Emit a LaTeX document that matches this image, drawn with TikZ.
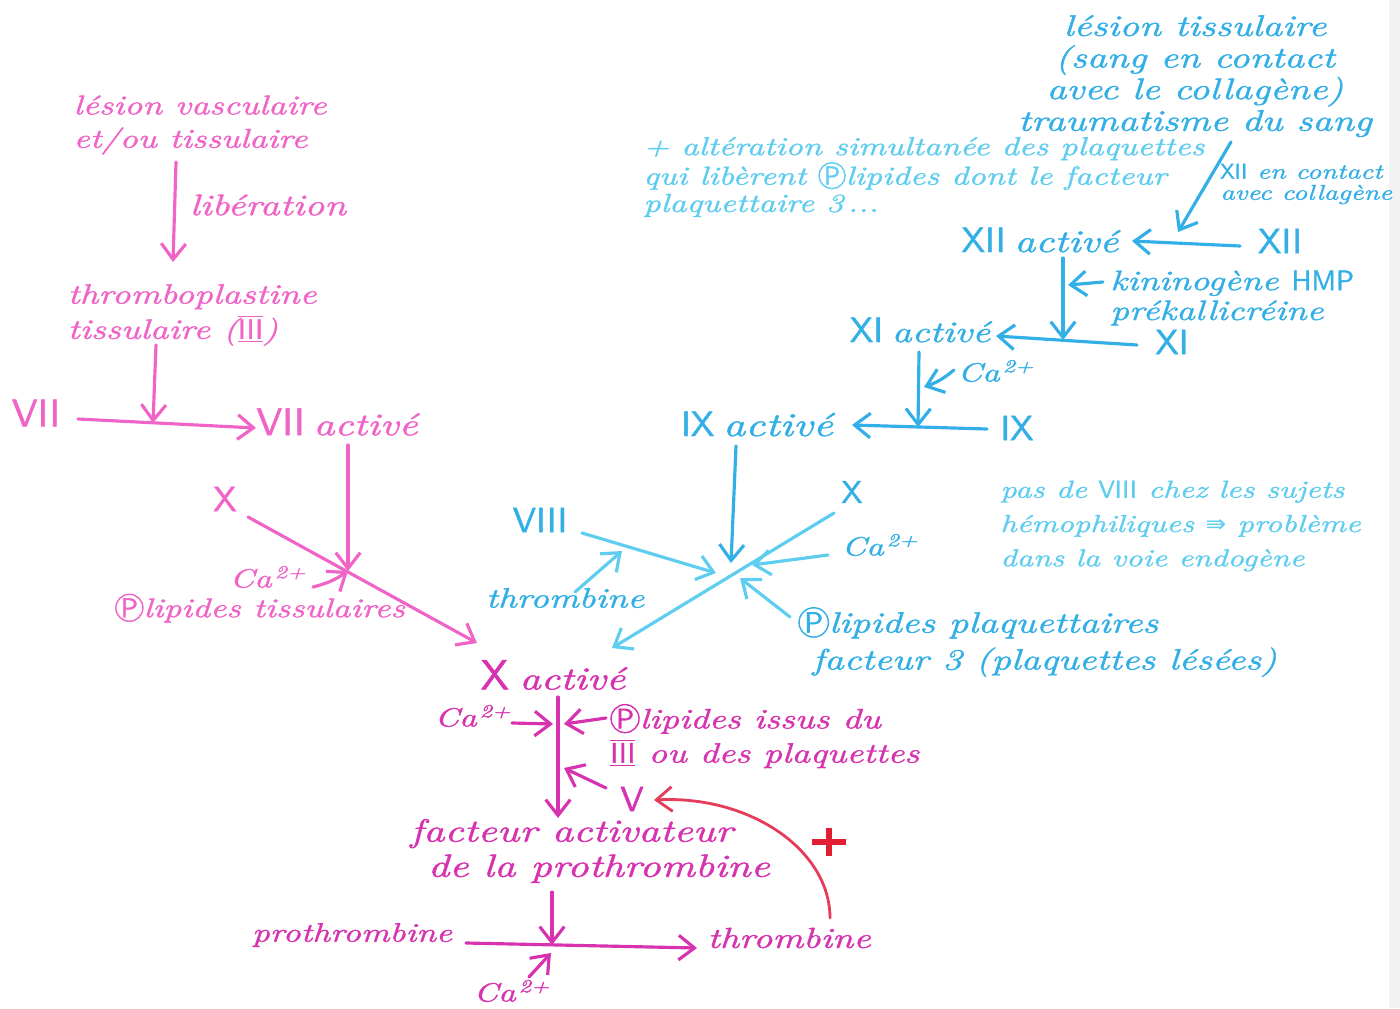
\documentclass[tikz,border=0pt]{standalone}
\usepackage{fontspec}
\usetikzlibrary{arrows.meta,calc}
\newfontfamily\hand{lmroman10-italic.otf}[FakeStretch=1.3,FakeBold=1.2]
\newfontfamily\rn{lmsans10-regular.otf}[FakeBold=1.2]
\newfontfamily\sym{DejaVu Sans}
\definecolor{pinkc}{RGB}{240,100,200}
\definecolor{magc}{RGB}{215,50,175}
\definecolor{bluec}{RGB}{50,175,230}
\definecolor{lcyan}{RGB}{95,205,240}
\definecolor{redc}{RGB}{230,60,90}
\definecolor{plusc}{RGB}{225,30,50}
\newcommand\fs[2]{\fontsize{#1}{#2}\selectfont}
\newcommand\Pc{\tikz[baseline=(cP.base)]\node[circle,draw,inner sep=0.3pt,line width=0.8pt] (cP) {\rn P};}
\newcommand\rom[1]{{\rn #1}}
\newcommand\cion{Ca\textsuperscript{\,2+}}
\newcommand\IIIb{$\overline{\underline{\mbox{\rn III}}}$}
\begin{document}
\begin{tikzpicture}[x=0.02cm,y=-0.02cm,
  t/.style={inner sep=0pt, align=left},
  ln/.style={line width=1.8pt, line cap=round},
  tip/.style={-{Straight Barb[length=9pt,width=14pt]}},
  pkL/.style={ln, draw=pinkc}, pkA/.style={pkL, tip},
  mgL/.style={ln, draw=magc}, mgA/.style={mgL, tip},
  blL/.style={ln, draw=bluec}, blA/.style={blL, tip},
  lcL/.style={ln, draw=lcyan}, lcA/.style={lcL, tip},
  rdA/.style={line width=1.6pt, line cap=round, draw=redc, tip}]
\useasboundingbox (0,0) rectangle (1400,1008);
\fill[white] (0,0) rectangle (1400,1008);
\fill[gray!10] (1389,0) rectangle (1400,1008);

% ---------- pink (left) ----------
\node[t,text=pinkc,font=\hand\fs{15.5}{19}] (lv) at (200,125) {lésion vasculaire\\et/ou tissulaire};
\node[t,text=pinkc,font=\hand\fs{17}{18}] (lib) at (268,205) {libération};
\node[t,text=pinkc,font=\hand\fs{16}{20}] (tt) at (192,315) {thromboplastine\\tissulaire (\IIIb)};
\node[t,text=pinkc,font=\rn\fs{22}{24}] (VII) at (36,413) {VII};
\node[t,text=pinkc] (VIIa) at (337,422) {{\rn\fs{22}{24}VII}\hspace{5pt}{\hand\fs{18}{20}activé}};
\node[t,text=pinkc,font=\rn\fs{20}{22}] (Xl) at (225,499) {X};
\node[t,text=pinkc,font=\hand\fs{15}{18}] (Ca1) at (268,577) {\cion};
\node[t,text=pinkc,font=\hand\fs{15.4}{18}] (plt) at (260,608) {\Pc lipides tissulaires};

\coordinate (a1s) at (176,162); \coordinate (a1e) at (173,262);
\coordinate (a2s) at (156,345); \coordinate (j1) at (153,423);
\coordinate (v7s) at (78,419); \coordinate (v7e) at (256,428);
\coordinate (a3s) at (348,445); \coordinate (j2) at (348,571);
\coordinate (xls) at (248,517); \coordinate (xle) at (477,643);
\coordinate (ca1s) at (313,587);
\draw[pkA] (a1s) -- (a1e);
\draw[pkA] (a2s) -- (j1);
\draw[pkA] (v7s) -- (v7e);
\draw[pkA] (a3s) -- (j2);
\draw[pkA] (xls) -- (xle);
\draw[pkA] (ca1s) to[bend right=10] (j2);

% ---------- blue (right) ----------
\node[t,text=bluec,font=\hand\fs{17}{18},align=center] (lt) at (1195,76) {lésion tissulaire\\(sang en contact\\avec le collagène)\\traumatisme du sang};
\node[t,text=lcyan,font=\hand\fs{14.8}{15.5},anchor=west] (alt) at (643,177) {+ altération simultanée des plaquettes\\qui libèrent \Pc lipides dont le facteur\\plaquettaire 3\,...};
\node[t,text=bluec,font=\hand\fs{12.2}{12},anchor=west] (XIIc) at (1220,184) {\rom{XII} en contact\\avec collagène};
\node[t,text=bluec] (XIIa) at (1040,240) {{\rn\fs{20}{22}XII}\hspace{5pt}{\hand\fs{18}{19}activé}};
\node[t,text=bluec,font=\rn\fs{20}{22}] (XII) at (1280,241) {XII};
\node[t,text=bluec,font=\hand\fs{16}{17},anchor=west] (kin) at (1110,298) {kininogène \rom{HMP}\\prékallicréine};
\node[t,text=bluec] (XIa) at (920,330) {{\rn\fs{20}{22}XI}\hspace{5pt}{\hand\fs{17}{19}activé}};
\node[t,text=bluec,font=\rn\fs{20}{22}] (XI) at (1172,342) {XI};
\node[t,text=bluec,font=\hand\fs{15}{18}] (Ca2) at (996,371) {\cion};
\node[t,text=bluec] (IXa) at (757,424) {{\rn\fs{20}{22}IX}\hspace{5pt}{\hand\fs{19}{19}activé}};
\node[t,text=bluec,font=\rn\fs{20}{22}] (IX) at (1017,428) {IX};
\node[t,text=lcyan,font=\hand\fs{14}{19.5},anchor=west] (nt) at (1000,526) {pas de \rom{VIII} chez les sujets\\hémophiliques {\sym ⇛} problème\\dans la voie endogène};
\node[t,text=bluec,font=\rn\fs{20}{22}] (VIII) at (540,520) {VIII};
\node[t,text=bluec,font=\hand\fs{16}{18}] (thb) at (565,598) {thrombine};
\node[t,text=bluec,font=\rn\fs{18}{20}] (Xb) at (852,492) {X};
\node[t,text=bluec,font=\hand\fs{15}{18}] (Ca3) at (880,545) {\cion};
\node[t,text=bluec,font=\hand\fs{16.8}{21},anchor=west] (plq) at (798,642) {\Pc lipides plaquettaires\\\hspace*{8pt}facteur 3 (plaquettes lésées)};

\coordinate (b1s) at (1231,142); \coordinate (b1e) at (1178,232);
\coordinate (x12s) at (1240,246); \coordinate (x12e) at (1132,241);
\coordinate (b2s) at (1063,258); \coordinate (j3) at (1063,340);
\coordinate (x11s) at (1137,345); \coordinate (x11e) at (996,336);
\coordinate (kns) at (1103,282); \coordinate (kne) at (1068,285);
\coordinate (b3s) at (919,352); \coordinate (j4) at (918,427);
\coordinate (x9s) at (987,429); \coordinate (x9e) at (852,425);
\coordinate (ca2s) at (954,370); \coordinate (ca2e) at (924,387);
\coordinate (b4s) at (736,446); \coordinate (jc) at (731,563);
\coordinate (v8s) at (582,533); \coordinate (v8e) at (716,573);
\coordinate (tbs) at (575,592); \coordinate (tbe) at (622,551);
\coordinate (xbs) at (834,513); \coordinate (xbe) at (612,648);
\coordinate (ca3s) at (828,555); \coordinate (ca3e) at (752,565);
\coordinate (pqs) at (790,617); \coordinate (pqe) at (740,578);
\draw[blA] (b1s) -- (b1e);
\draw[blA] (x12s) -- (x12e);
\draw[blA] (b2s) -- (j3);
\draw[blA] (x11s) -- (x11e);
\draw[blA] (kns) -- (kne);
\draw[blA] (b3s) -- (j4);
\draw[blA] (x9s) -- (x9e);
\draw[blA] (ca2s) to[bend left=10] (ca2e);
\draw[blA] (b4s) -- (jc);
\draw[lcA] (v8s) -- (v8e);
\draw[lcA] (tbs) -- (tbe);
\draw[lcA] (xbs) -- (xbe);
\draw[lcA] (ca3s) -- (ca3e);
\draw[lcA] (pqs) -- (pqe);

% ---------- magenta (bottom) ----------
\node[t,text=magc] (Xa) at (553,675) {{\rn\fs{24}{26}X}\hspace{6pt}{\hand\fs{18.3}{20}activé}};
\node[t,text=magc,font=\hand\fs{15}{18}] (Ca4) at (473,716) {\cion};
\node[t,text=magc,font=\hand\fs{16}{19.5},anchor=west] (pli) at (610,736) {\Pc lipides issus du\\\IIIb{} ou des plaquettes};
\node[t,text=magc,font=\rn\fs{20}{22}] (V) at (632,799) {V};
\node[t,text=magc,font=\hand\fs{18.3}{20},anchor=west] (fap) at (410,851) {facteur activateur\\\hspace*{10pt}de la prothrombine};
\node[t,text=magc,font=\hand\fs{15.3}{18}] (proth) at (352,935) {prothrombine};
\node[t,text=magc,font=\hand\fs{16.5}{20}] (thr) at (789,938) {thrombine};
\node[t,text=magc,font=\hand\fs{15}{18}] (Ca5) at (512,991) {\cion};

\coordinate (m1s) at (558,697); \coordinate (m1e) at (558,818);
\coordinate (ca4s) at (512,723); \coordinate (ca4e) at (553,724);
\coordinate (pls) at (606,718); \coordinate (ple) at (564,724);
\coordinate (vs) at (606,788); \coordinate (ve) at (564,768);
\coordinate (m2s) at (552,892); \coordinate (jb) at (552,945);
\coordinate (prs) at (466,943); \coordinate (pre) at (697,948);
\coordinate (ca5s) at (529,977); \coordinate (ca5e) at (551,953);
\draw[mgA] (m1s) -- (m1e);
\draw[mgA] (ca4s) -- (ca4e);
\draw[mgA] (pls) -- (ple);
\draw[mgA] (vs) -- (ve);
\draw[mgA] (m2s) -- (jb);
\draw[mgA] (prs) -- (pre);
\draw[mgA] (ca5s) -- (ca5e);

% ---------- red feedback ----------
\coordinate (rs) at (830,918); \coordinate (re) at (654,800);
\draw[rdA] (rs) .. controls (830,850) and (750,795) .. (re);
\coordinate (plus) at (829,842);
\draw[plusc, line width=3.6pt] ($(plus)+(-17,0)$) -- ($(plus)+(17,0)$);
\draw[plusc, line width=3.6pt] ($(plus)+(0,-14)$) -- ($(plus)+(0,14)$);
\end{tikzpicture}
\end{document}
